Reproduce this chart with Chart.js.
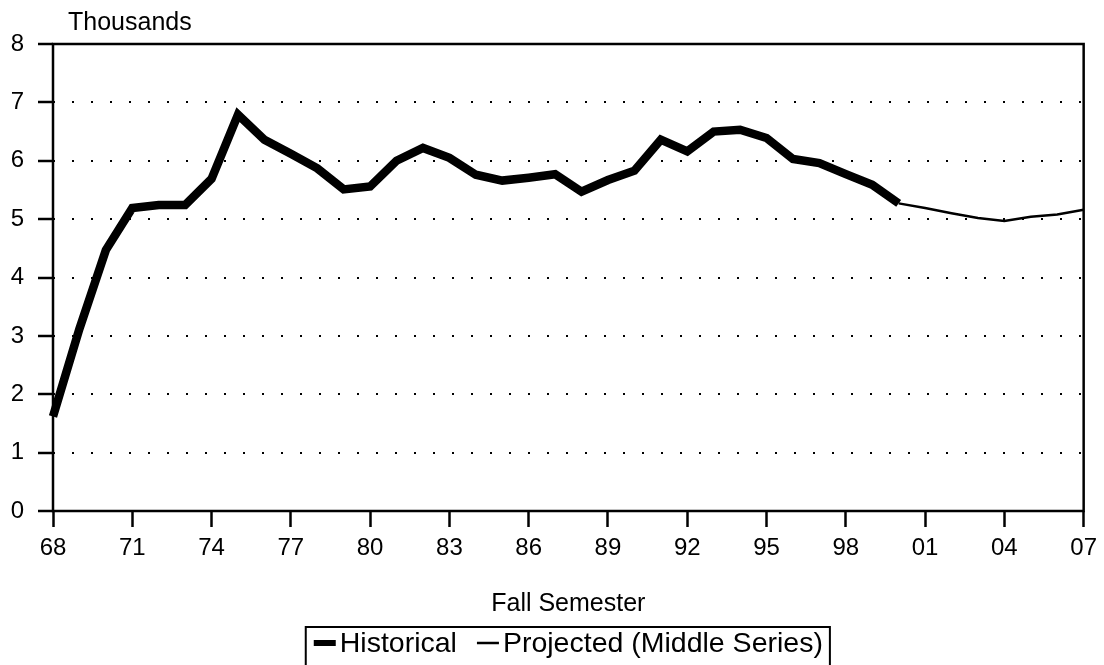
<!DOCTYPE html>
<html>
<head>
<meta charset="utf-8">
<script src="https://cdn.jsdelivr.net/npm/chart.js@4"></script>
<style>
  html, body { margin: 0; padding: 0; background: #fff; }
  #wrap { width: 1104px; height: 665px; }
</style>
</head>
<body>
<div id="wrap"><canvas id="enrollChart" width="1104" height="665"></canvas></div>
<script>
const years = ['68', '69', '70', '71', '72', '73', '74', '75', '76', '77',
    '78', '79', '80', '81', '82', '83', '84', '85', '86', '87',
    '88', '89', '90', '91', '92', '93', '94', '95', '96', '97',
    '98', '99', '00', '01', '02', '03', '04', '05', '06', '07'];

// thousands, fall 1968 - fall 2000
const historical = [1.62, 3.12, 4.47, 5.19, 5.24, 5.24, 5.69, 6.79, 6.36, 6.12,
    5.87, 5.51, 5.56, 6.00, 6.22, 6.05, 5.76, 5.66, 5.71, 5.77,
    5.47, 5.67, 5.83, 6.36, 6.16, 6.50, 6.53, 6.39, 6.03, 5.96,
    5.77, 5.59, 5.27];

// fall 2000 - fall 2007
const projected = [5.27, 5.19, 5.10, 5.02, 4.97, 5.04, 5.08, 5.16];

const yTicks = [0, 1, 2, 3, 4, 5, 6, 7, 8];

const font = '"Liberation Sans", Arial, Helvetica, sans-serif';

// pad the series out to the full year range
const histData = years.map((y, i) => i < historical.length ? historical[i] : null);
const projStart = historical.length - 1;
const projData = years.map((y, i) => i >= projStart ? projected[i - projStart] : null);

// frame, "Thousands" label and the boxed legend under the axis title
const frame = {
    id: 'frame',
    afterDraw(chart) {
        const {ctx, chartArea: a} = chart;
        ctx.save();
        ctx.strokeStyle = '#000';
        ctx.lineWidth = 2.5;
        ctx.strokeRect(a.left, a.top, a.right - a.left, a.bottom - a.top);

        ctx.fillStyle = '#000';
        ctx.font = '25px ' + font;
        ctx.textAlign = 'left';
        ctx.textBaseline = 'alphabetic';
        ctx.fillText('Thousands', a.left + 15, a.top - 14);

        // legend
        ctx.font = '28.5px ' + font;
        const sample = 22, gap = 4, itemGap = 20;
        const items = chart.data.datasets.map(ds => ({
            text: ds.label,
            lw: ds.borderWidth > 4 ? 6 : 2.5,
            w: sample + gap + ctx.measureText(ds.label).width,
        }));
        const total = items.reduce((s, it) => s + it.w, 0) + itemGap * (items.length - 1);
        let x = (a.left + a.right) / 2 - total / 2;
        const top = 627, base = 652, mid = 643;

        ctx.lineWidth = 2;
        ctx.beginPath();
        ctx.moveTo(x - 8, chart.height + 2);
        ctx.lineTo(x - 8, top);
        ctx.lineTo(x + total + 7, top);
        ctx.lineTo(x + total + 7, chart.height + 2);
        ctx.stroke();

        items.forEach(it => {
            ctx.lineWidth = it.lw;
            ctx.beginPath();
            ctx.moveTo(x, mid);
            ctx.lineTo(x + sample, mid);
            ctx.stroke();
            ctx.fillText(it.text, x + sample + gap, base);
            x += it.w + itemGap;
        });
        ctx.restore();
    }
};

new Chart(document.getElementById('enrollChart'), {
    type: 'line',
    data: {
        labels: years,
        datasets: [
            {
                label: 'Historical',
                data: histData,
                borderColor: '#000',
                backgroundColor: '#000',
                borderWidth: 8.5,
                pointRadius: 0,
                tension: 0,
                spanGaps: false,
            },
            {
                label: 'Projected (Middle Series)',
                data: projData,
                borderColor: '#000',
                backgroundColor: '#000',
                borderWidth: 2.5,
                pointRadius: 0,
                tension: 0,
                spanGaps: false,
            },
        ],
    },
    options: {
        responsive: false,
        animation: false,
        devicePixelRatio: 1,
        layout: { padding: { top: 44, right: 16, left: 0, bottom: 40 } },
        plugins: {
            tooltip: { enabled: false },
            legend: { display: false },
        },
        scales: {
            x: {
                type: 'category',
                offset: false,
                afterFit(scale) { scale.height = 114; },
                grid: {
                    offset: false,
                    drawOnChartArea: false,
                    tickLength: 16,
                    tickWidth: 2.5,
                    tickColor: '#000',
                },
                border: { display: false },
                ticks: {
                    autoSkip: false,
                    maxRotation: 0,
                    color: '#000',
                    padding: 7,
                    font: { family: font, size: 24 },
                    callback: (v, i) => i % 3 === 0 ? years[i] : null,
                },
                title: {
                    display: true,
                    text: 'Fall Semester',
                    color: '#000',
                    font: { family: font, size: 25 },
                    padding: { top: 0, bottom: 6 },
                },
            },
            y: {
                min: 0,
                max: 8,
                afterFit(scale) { scale.width = 53; },
                afterBuildTicks(scale) { scale.ticks = yTicks.map(v => ({ value: v })); },
                grid: {
                    color: '#000',
                    lineWidth: 2,
                    tickLength: 15,
                    tickWidth: 2.5,
                    tickColor: '#000',
                    tickBorderDash: [],
                },
                border: { display: false, dash: [2, 17] },
                ticks: {
                    color: '#000',
                    padding: 14,
                    font: { family: font, size: 24 },
                },
            },
        },
    },
    plugins: [frame],
});
</script>
</body>
</html>
